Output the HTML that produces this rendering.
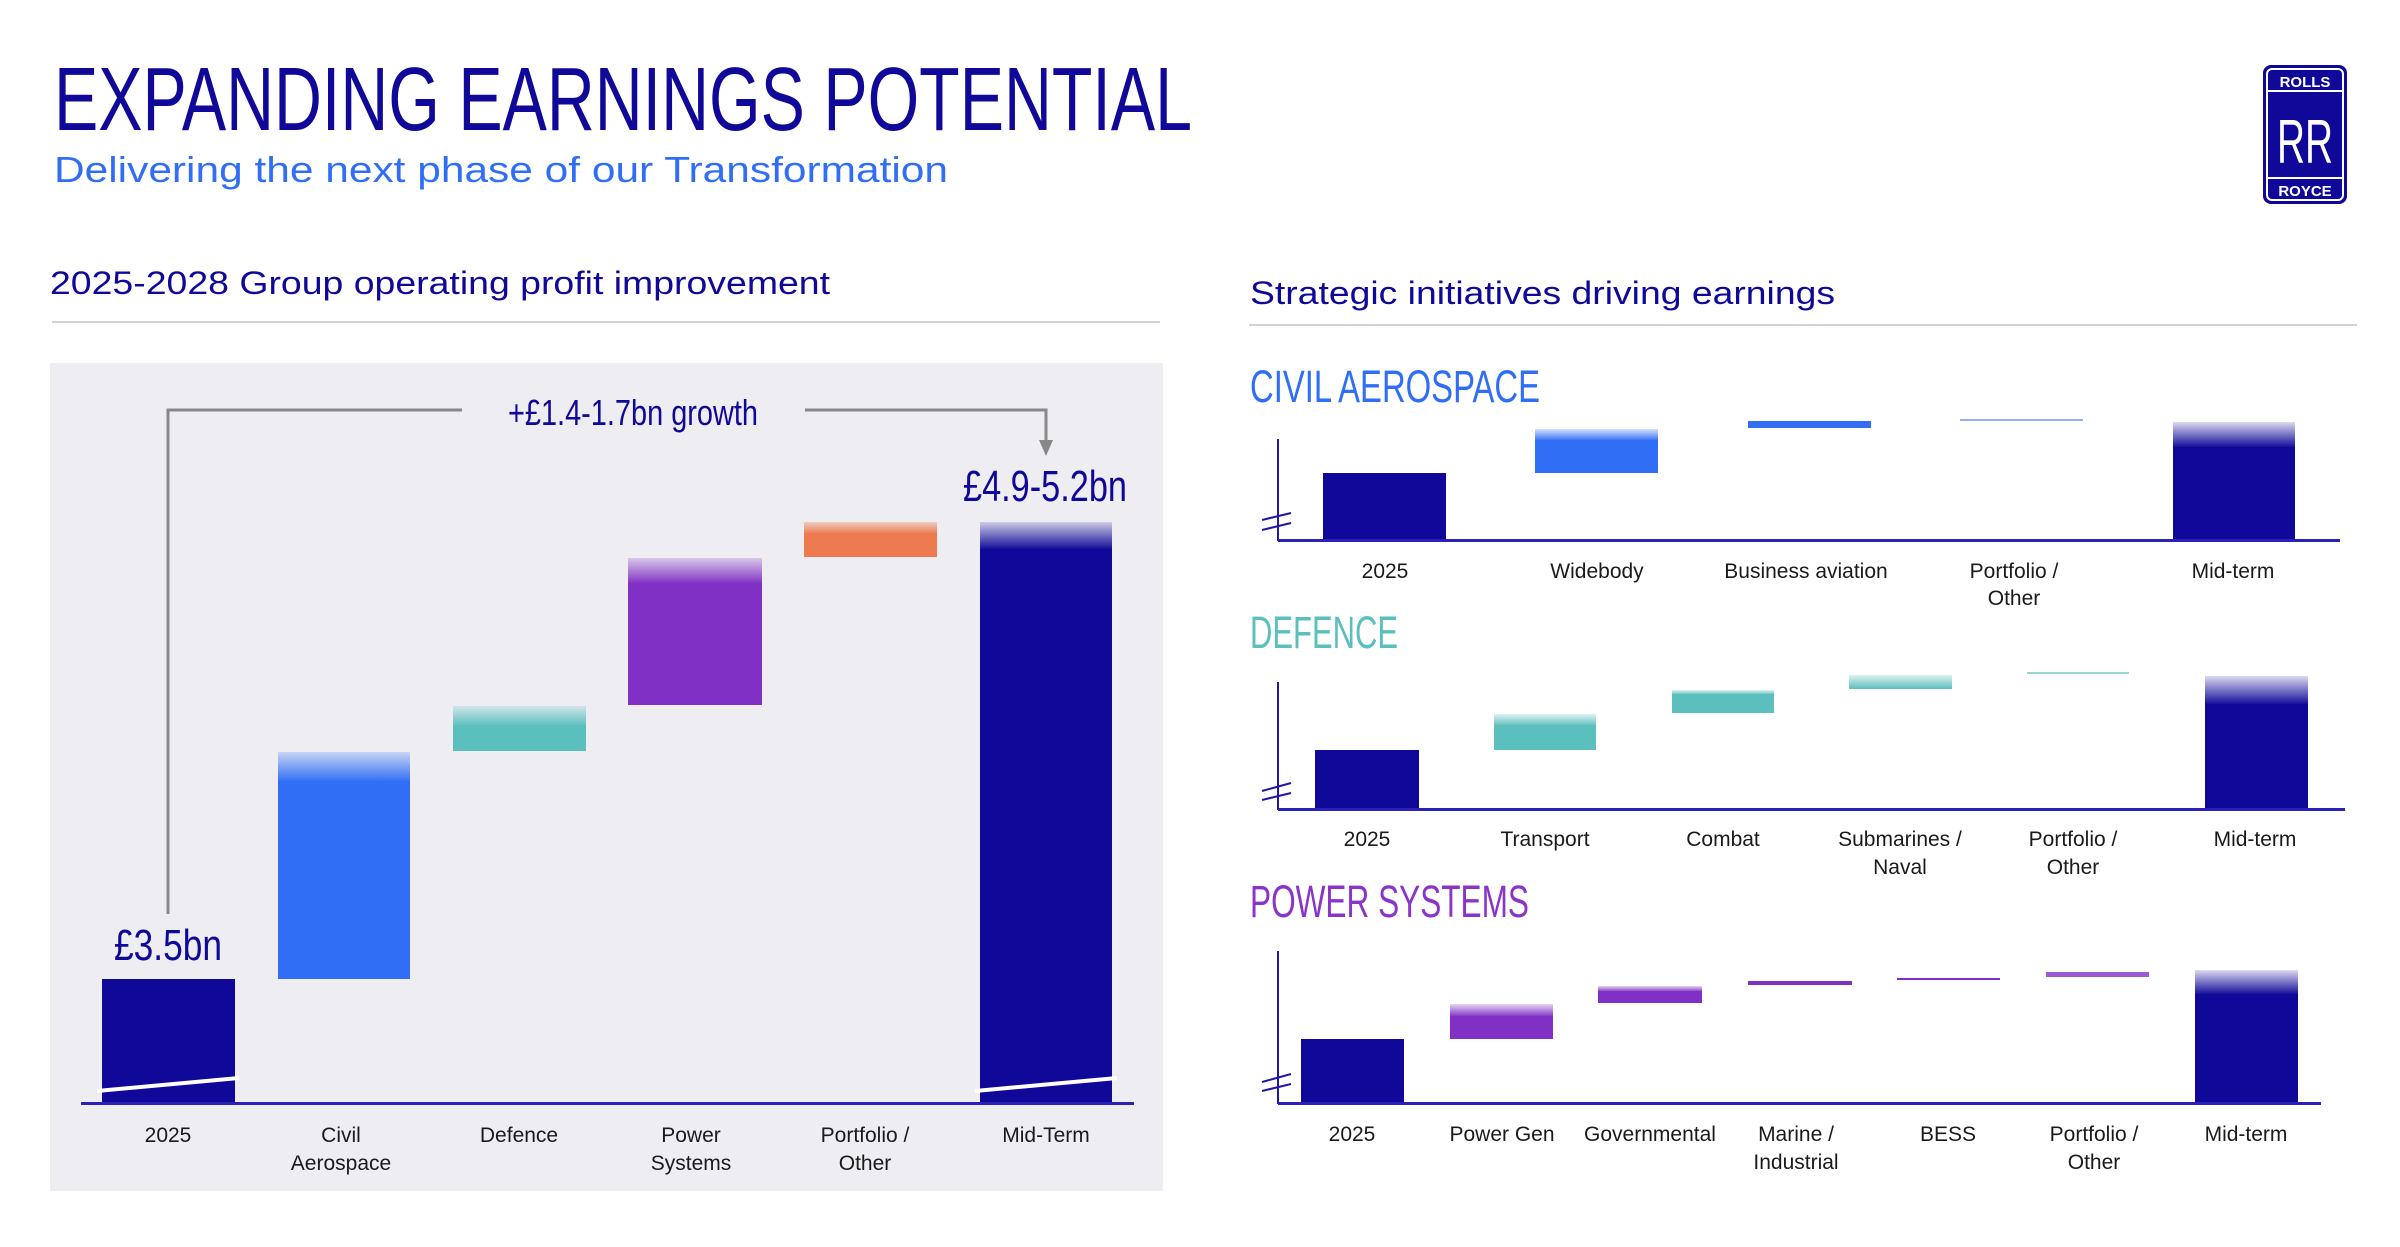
<!DOCTYPE html>
<html><head><meta charset="utf-8"><style>
html,body{margin:0;padding:0;background:#fff;}
svg{display:block;}
text{font-family:"Liberation Sans",sans-serif;}
.n{font-family:"Liberation Sans Narrow","Liberation Sans",sans-serif;}
.lab{font-size:21px;fill:#1a1a1a;text-anchor:middle;}
</style></head><body>
<svg width="2400" height="1247" viewBox="0 0 2400 1247" xmlns="http://www.w3.org/2000/svg">
<defs>
<linearGradient id="gN" x1="0" y1="0" x2="0" y2="1"><stop offset="0" stop-color="#0f0898" stop-opacity="0.15"/><stop offset="1" stop-color="#0f0898"/></linearGradient>
<linearGradient id="gB" x1="0" y1="0" x2="0" y2="1"><stop offset="0" stop-color="#2f6ef5" stop-opacity="0.2"/><stop offset="1" stop-color="#2f6ef5"/></linearGradient>
<linearGradient id="gT" x1="0" y1="0" x2="0" y2="1"><stop offset="0" stop-color="#5bbfbd" stop-opacity="0.2"/><stop offset="1" stop-color="#5bbfbd"/></linearGradient>
<linearGradient id="gP" x1="0" y1="0" x2="0" y2="1"><stop offset="0" stop-color="#8030c4" stop-opacity="0.2"/><stop offset="1" stop-color="#8030c4"/></linearGradient>
<linearGradient id="gO" x1="0" y1="0" x2="0" y2="1"><stop offset="0" stop-color="#ee7b50" stop-opacity="0.3"/><stop offset="1" stop-color="#ee7b50"/></linearGradient>
</defs>

<text class="n" x="54" y="130" font-size="90" fill="#100898" textLength="1138" lengthAdjust="spacingAndGlyphs">EXPANDING EARNINGS POTENTIAL</text>
<text x="54" y="182" font-size="36" fill="#2f6ef5" textLength="894" lengthAdjust="spacingAndGlyphs">Delivering the next phase of our Transformation</text>

<!-- logo -->
<rect x="2263" y="65" width="84" height="139" rx="8" fill="#100898"/>
<rect x="2267" y="69" width="76" height="131" rx="5" fill="none" stroke="#fff" stroke-width="2"/>
<line x1="2267" y1="91" x2="2343" y2="91" stroke="#fff" stroke-width="2"/>
<line x1="2267" y1="178" x2="2343" y2="178" stroke="#fff" stroke-width="2"/>
<text x="2305" y="87" font-size="15" fill="#fff" text-anchor="middle" font-weight="bold">ROLLS</text>
<text x="2305" y="196" font-size="15" fill="#fff" text-anchor="middle" font-weight="bold">ROYCE</text>
<text x="2305" y="163" font-size="62" fill="#fff" text-anchor="middle" font-family="Liberation Serif,serif" textLength="56" lengthAdjust="spacingAndGlyphs">RR</text>

<!-- left -->
<text x="50" y="294" font-size="32" fill="#100898" textLength="780" lengthAdjust="spacingAndGlyphs">2025-2028 Group operating profit improvement</text>
<rect x="52" y="321" width="1108" height="2" fill="#d2d2d2"/>
<rect x="50" y="363" width="1113" height="828" fill="#eeedf2"/>

<polyline points="168,914 168,410 462,410" fill="none" stroke="#888" stroke-width="3"/>
<polyline points="805,410 1046,410 1046,442" fill="none" stroke="#888" stroke-width="3"/>
<polygon points="1039,440 1053,440 1046,456" fill="#888"/>
<text class="n" x="508" y="425" font-size="36" fill="#100898" textLength="250" lengthAdjust="spacingAndGlyphs">+£1.4-1.7bn growth</text>
<text class="n" x="963" y="501" font-size="44" fill="#100898" textLength="164" lengthAdjust="spacingAndGlyphs">£4.9-5.2bn</text>
<text class="n" x="114" y="960" font-size="44" fill="#100898" textLength="108" lengthAdjust="spacingAndGlyphs">£3.5bn</text>

<rect x="102" y="979" width="133" height="125" fill="#0f0898"/>
<rect x="278" y="752" width="132" height="30" fill="url(#gB)"/><rect x="278" y="781" width="132" height="198" fill="#2f6ef5"/>
<rect x="453" y="706" width="133" height="20" fill="url(#gT)"/><rect x="453" y="725" width="133" height="26" fill="#5bbfbd"/>
<rect x="628" y="558" width="134" height="26" fill="url(#gP)"/><rect x="628" y="583" width="134" height="122" fill="#8030c4"/>
<rect x="804" y="522" width="133" height="12" fill="url(#gO)"/><rect x="804" y="533" width="133" height="24" fill="#ee7b50"/>
<rect x="980" y="522" width="132" height="28" fill="url(#gN)"/><rect x="980" y="549" width="132" height="555" fill="#0f0898"/>
<line x1="97" y1="1091" x2="239" y2="1078" stroke="#fff" stroke-width="4"/>
<line x1="975" y1="1091" x2="1117" y2="1078" stroke="#fff" stroke-width="4"/>
<rect x="81" y="1102" width="1053" height="3" fill="#2a22b8"/>
<g class="lab">
<text x="168" y="1142">2025</text>
<text x="341" y="1142">Civil</text><text x="341" y="1170">Aerospace</text>
<text x="519" y="1142">Defence</text>
<text x="691" y="1142">Power</text><text x="691" y="1170">Systems</text>
<text x="865" y="1142">Portfolio /</text><text x="865" y="1170">Other</text>
<text x="1046" y="1142">Mid-Term</text>
</g>

<!-- right -->
<text x="1250" y="304" font-size="32" fill="#100898" textLength="585" lengthAdjust="spacingAndGlyphs">Strategic initiatives driving earnings</text>
<rect x="1249" y="324" width="1108" height="2" fill="#d2d2d2"/>

<!-- civil -->
<text class="n" x="1250" y="402" font-size="45" fill="#2f6ef5" textLength="290" lengthAdjust="spacingAndGlyphs">CIVIL AEROSPACE</text>
<line x1="1278" y1="439" x2="1278" y2="541" stroke="#1e17a8" stroke-width="2"/>
<line x1="1262" y1="520" x2="1291" y2="513" stroke="#1e17a8" stroke-width="2"/>
<line x1="1262" y1="530" x2="1291" y2="523" stroke="#1e17a8" stroke-width="2"/>
<rect x="1323" y="473" width="123" height="67" fill="#0f0898"/>
<rect x="1535" y="429" width="123" height="12" fill="url(#gB)"/><rect x="1535" y="440" width="123" height="33" fill="#2f6ef5"/>
<rect x="1748" y="421" width="123" height="7" fill="#2f6ef5"/>
<rect x="1960" y="419" width="123" height="2" fill="#8fb0f5"/>
<rect x="2173" y="422" width="122" height="26" fill="url(#gN)"/><rect x="2173" y="447" width="122" height="93" fill="#0f0898"/>
<rect x="1278" y="539" width="1062" height="3" fill="#2a22b8"/>
<g class="lab">
<text x="1385" y="578">2025</text><text x="1597" y="578">Widebody</text><text x="1806" y="578">Business aviation</text>
<text x="2014" y="578">Portfolio /</text><text x="2014" y="605">Other</text><text x="2233" y="578">Mid-term</text>
</g>

<!-- defence -->
<text class="n" x="1250" y="648" font-size="45" fill="#5bbfbd" textLength="148" lengthAdjust="spacingAndGlyphs">DEFENCE</text>
<line x1="1278" y1="682" x2="1278" y2="810" stroke="#1e17a8" stroke-width="2"/>
<line x1="1262" y1="791" x2="1291" y2="783" stroke="#1e17a8" stroke-width="2"/>
<line x1="1262" y1="800" x2="1291" y2="793" stroke="#1e17a8" stroke-width="2"/>
<rect x="1315" y="750" width="104" height="59" fill="#0f0898"/>
<rect x="1494" y="714" width="102" height="12" fill="url(#gT)"/><rect x="1494" y="725" width="102" height="25" fill="#5bbfbd"/>
<rect x="1672" y="690" width="102" height="5" fill="url(#gT)"/><rect x="1672" y="694" width="102" height="19" fill="#5bbfbd"/>
<rect x="1849" y="675" width="103" height="14" fill="url(#gT)"/>
<rect x="2027" y="672" width="102" height="2" fill="#9ad6d4"/>
<rect x="2205" y="676" width="103" height="29" fill="url(#gN)"/><rect x="2205" y="704" width="103" height="105" fill="#0f0898"/>
<rect x="1278" y="808" width="1067" height="3" fill="#2a22b8"/>
<g class="lab">
<text x="1367" y="846">2025</text><text x="1545" y="846">Transport</text><text x="1723" y="846">Combat</text>
<text x="1900" y="846">Submarines /</text><text x="1900" y="874">Naval</text>
<text x="2073" y="846">Portfolio /</text><text x="2073" y="874">Other</text><text x="2255" y="846">Mid-term</text>
</g>

<!-- power -->
<text class="n" x="1250" y="917" font-size="45" fill="#8a35c8" textLength="279" lengthAdjust="spacingAndGlyphs">POWER SYSTEMS</text>
<line x1="1278" y1="951" x2="1278" y2="1104" stroke="#1e17a8" stroke-width="2"/>
<line x1="1262" y1="1082" x2="1291" y2="1074" stroke="#1e17a8" stroke-width="2"/>
<line x1="1262" y1="1091" x2="1291" y2="1084" stroke="#1e17a8" stroke-width="2"/>
<rect x="1301" y="1039" width="103" height="64" fill="#0f0898"/>
<rect x="1450" y="1004" width="103" height="13" fill="url(#gP)"/><rect x="1450" y="1016" width="103" height="23" fill="#8030c4"/>
<rect x="1598" y="986" width="104" height="6" fill="url(#gP)"/><rect x="1598" y="991" width="104" height="12" fill="#8030c4"/>
<rect x="1748" y="981" width="104" height="4" fill="#8030c4"/>
<rect x="1897" y="978" width="103" height="2" fill="#8030c4"/>
<rect x="2046" y="972" width="103" height="5" fill="#9a5ad4"/>
<rect x="2195" y="970" width="103" height="25" fill="url(#gN)"/><rect x="2195" y="994" width="103" height="109" fill="#0f0898"/>
<rect x="1278" y="1102" width="1043" height="3" fill="#2a22b8"/>
<g class="lab">
<text x="1352" y="1141">2025</text><text x="1502" y="1141">Power Gen</text><text x="1650" y="1141">Governmental</text>
<text x="1796" y="1141">Marine /</text><text x="1796" y="1169">Industrial</text><text x="1948" y="1141">BESS</text>
<text x="2094" y="1141">Portfolio /</text><text x="2094" y="1169">Other</text><text x="2246" y="1141">Mid-term</text>
</g>
</svg>
</body></html>
